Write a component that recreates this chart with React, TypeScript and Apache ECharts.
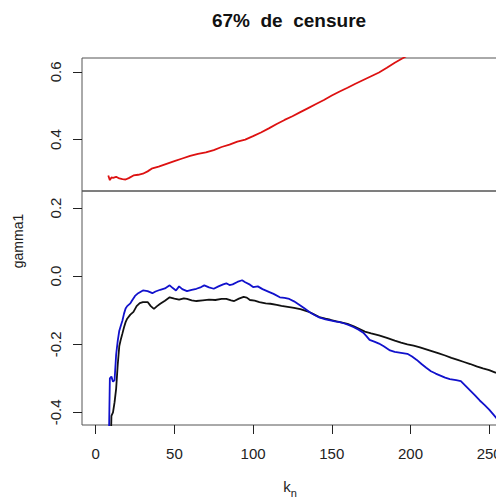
import React, { useEffect, useRef } from "react";
import * as echarts from "echarts";

const title = "67%  de  censure";
const yName = "gamma1";
const xTicks = [0, 50, 100, 150, 200, 250];
const yTicksTop = [0.4, 0.6];
const yTicksBottom = [-0.4, -0.2, 0.0, 0.2];

const kRed = [8, 9, 10, 11, 13, 15, 17, 19, 21, 24, 27, 30, 33, 36, 40, 45, 50, 55, 60, 65, 70, 75, 80, 85, 90, 95, 100, 105, 110, 115, 120, 125, 130, 135, 140, 145, 150, 155, 160, 165, 170, 175, 180, 185, 190, 195, 200];
const gRed = [0.294, 0.28, 0.288, 0.287, 0.29, 0.285, 0.283, 0.282, 0.286, 0.294, 0.296, 0.299, 0.306, 0.315, 0.32, 0.328, 0.336, 0.344, 0.352, 0.358, 0.362, 0.369, 0.378, 0.385, 0.394, 0.4, 0.41, 0.421, 0.433, 0.446, 0.458, 0.469, 0.481, 0.493, 0.505, 0.517, 0.53, 0.542, 0.553, 0.565, 0.576, 0.587, 0.598, 0.612, 0.627, 0.64, 0.654];

const kBlack = [9, 10, 11, 12, 13, 14, 15, 16, 17, 18, 19, 20, 22, 24, 26, 28, 30, 33, 35, 37, 39, 41, 44, 47, 50, 53, 56, 58, 61, 64, 68, 72, 76, 80, 83, 86, 88, 91, 94, 96, 98, 101, 104, 108, 111, 115, 118, 122, 126, 130, 133, 136, 139, 142, 146, 149, 153, 156, 160, 164, 168, 171, 175, 180, 185, 190, 194, 198, 202, 206, 210, 214, 218, 222, 226, 230, 234, 238, 242, 246, 250, 254, 258];
const gBlack = [-0.6, -0.41, -0.4, -0.37, -0.33, -0.26, -0.205, -0.185, -0.168, -0.15, -0.135, -0.125, -0.113, -0.105, -0.088, -0.079, -0.076, -0.076, -0.088, -0.096, -0.088, -0.081, -0.072, -0.062, -0.066, -0.069, -0.065, -0.067, -0.071, -0.073, -0.071, -0.069, -0.07, -0.067, -0.067, -0.071, -0.073, -0.066, -0.061, -0.063, -0.07, -0.072, -0.076, -0.08, -0.081, -0.084, -0.087, -0.09, -0.093, -0.097, -0.101, -0.106, -0.113, -0.12, -0.125, -0.128, -0.133, -0.136, -0.14, -0.147, -0.156, -0.163, -0.168, -0.174, -0.181, -0.189, -0.195, -0.2, -0.204, -0.209, -0.215, -0.221, -0.227, -0.233, -0.24, -0.246, -0.252, -0.258, -0.265, -0.271, -0.276, -0.283, -0.288];

const kBlue = [8, 9, 10, 11, 12, 13, 14, 15, 16, 17, 18, 19, 20, 22, 23, 25, 27, 30, 33, 36, 38, 41, 44, 47, 49, 51, 53, 55, 58, 61, 64, 67, 69, 72, 75, 78, 81, 83, 85, 87, 90, 93, 95, 98, 100, 103, 106, 110, 113, 117, 120, 123, 126, 130, 133, 136, 139, 142, 146, 149, 152, 155, 158, 161, 164, 167, 170, 172, 174, 177, 180, 183, 187, 190, 194, 198, 201, 204, 207, 210, 213, 216, 219, 222, 225, 229, 232, 235, 238, 241, 244, 247, 250, 253, 256, 259];
const gBlue = [-0.6, -0.3, -0.295, -0.31, -0.305, -0.23, -0.19, -0.16, -0.145, -0.13, -0.11, -0.095, -0.088, -0.08, -0.072, -0.058, -0.05, -0.042, -0.044, -0.05, -0.045, -0.04, -0.036, -0.027, -0.035, -0.042, -0.03, -0.038, -0.044, -0.04, -0.037, -0.032, -0.027, -0.033, -0.037, -0.03, -0.024, -0.021, -0.026, -0.024, -0.017, -0.012, -0.018, -0.025, -0.032, -0.03, -0.038, -0.046, -0.052, -0.062, -0.064, -0.067, -0.074, -0.086, -0.096, -0.106, -0.114, -0.121, -0.127, -0.13, -0.133, -0.135, -0.139, -0.144, -0.15, -0.157, -0.166, -0.176, -0.187, -0.192, -0.198, -0.206, -0.218, -0.222, -0.225, -0.228, -0.236, -0.246, -0.258, -0.269, -0.279, -0.286, -0.292, -0.298, -0.302, -0.305, -0.308, -0.322, -0.336, -0.35, -0.365, -0.378, -0.392, -0.408, -0.425, -0.44];

const X_MIN = -8.7;
const X_MAX = 255.6;
const Y_TOP_MIN = 0.248;
const Y_TOP_MAX = 0.641;
const Y_BOT_MIN = -0.437;
const Y_BOT_MAX = 0.25;

const FONT = "Liberation Sans, Arial, sans-serif";

function zip(k: number[], g: number[]) {
  return k.map((x, i) => [x, g[i]]);
}

export default function App() {
  const ref = useRef<HTMLDivElement>(null);
  useEffect(() => {
    document.body.style.margin = "0";
    const chart = echarts.init(ref.current!, null, { renderer: "svg" });
    const tickStyle = { color: "#222", width: 1 };
    const yAxisCommon = (idx: number, min: number, max: number, ticks: number[]) => ({
      type: "value",
      gridIndex: idx,
      min,
      max,
      axisLine: { show: false, onZero: false },
      splitLine: { show: false },
      axisTick: { show: true, length: 9, customValues: ticks, lineStyle: tickStyle },
      axisLabel: {
        customValues: ticks,
        rotate: 90,
        margin: 19,
        fontSize: 15,
        fontFamily: FONT,
        color: "#222",
        formatter: (v: number) => v.toFixed(1),
      },
    });
    const gridCommon = {
      left: 82,
      width: 416,
      show: true,
      borderColor: "#555",
      borderWidth: 1,
      backgroundColor: "transparent",
      containLabel: false,
      outerBoundsMode: "none",
    };
    chart.setOption({
      animation: false,
      backgroundColor: "#fff",
      grid: [
        { ...gridCommon, top: 58, height: 133 },
        { ...gridCommon, top: 191, height: 234 },
      ],
      xAxis: [
        { type: "value", gridIndex: 0, min: X_MIN, max: X_MAX, show: false },
        {
          type: "value",
          gridIndex: 1,
          min: X_MIN,
          max: X_MAX,
          axisLine: { show: false, onZero: false },
          splitLine: { show: false },
          axisTick: { show: true, length: 9, customValues: xTicks, lineStyle: tickStyle },
          axisLabel: { customValues: xTicks, margin: 21, fontSize: 15, fontFamily: FONT, color: "#222", hideOverlap: false },
          name: "{k|k}{n|n}",
          nameLocation: "middle",
          nameGap: 54,
          nameTextStyle: {
            rich: {
              k: { fontSize: 15, lineHeight: 15, verticalAlign: "top", fontFamily: FONT, color: "#222" },
              n: { fontSize: 11, lineHeight: 11, padding: [8, 0, 0, 0], verticalAlign: "top", fontFamily: FONT, color: "#222" },
            },
          },
        },
      ],
      yAxis: [
        yAxisCommon(0, Y_TOP_MIN, Y_TOP_MAX, yTicksTop),
        yAxisCommon(1, Y_BOT_MIN, Y_BOT_MAX, yTicksBottom),
      ],
      series: [
        {
          type: "line",
          xAxisIndex: 0,
          yAxisIndex: 0,
          data: zip(kRed, gRed),
          showSymbol: false,
          lineStyle: { color: "#dd1111", width: 1.8 },
          clip: true,
        },
        {
          type: "line",
          xAxisIndex: 1,
          yAxisIndex: 1,
          data: zip(kBlack, gBlack),
          showSymbol: false,
          lineStyle: { color: "#111111", width: 1.8 },
          clip: true,
        },
        {
          type: "line",
          xAxisIndex: 1,
          yAxisIndex: 1,
          data: zip(kBlue, gBlue),
          showSymbol: false,
          lineStyle: { color: "#1111cc", width: 1.8 },
          clip: true,
        },
      ],
      graphic: [
        {
          type: "text",
          x: 289,
          y: 20,
          style: { text: title, font: `bold 19px ${FONT}`, fill: "#111", textAlign: "center", textVerticalAlign: "middle" },
        },
        {
          type: "text",
          x: 18,
          y: 241,
          rotation: Math.PI / 2,
          style: { text: yName, font: `14px ${FONT}`, fill: "#222", textAlign: "center", textVerticalAlign: "middle" },
        },
      ],
    });
    return () => chart.dispose();
  }, []);
  return <div ref={ref} style={{ width: 496, height: 498, position: "absolute", left: 0, top: 0 }} />;
}
